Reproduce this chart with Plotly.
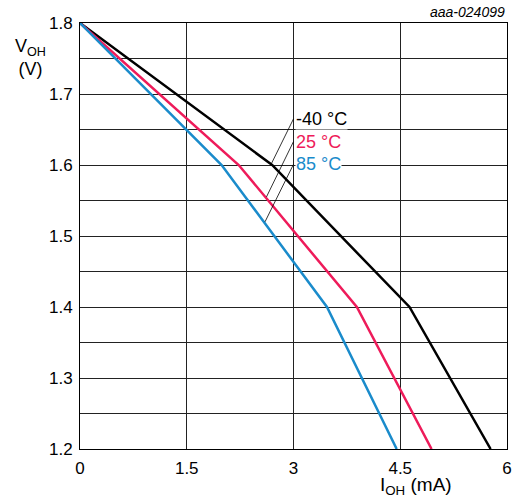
import plotly.graph_objects as go

# Data
i_m40 = [0, 2.70, 4.63, 5.77]
v_m40 = [1.8, 1.6, 1.4, 1.2]
i_25 = [0, 2.23, 3.89, 4.94]
v_25 = [1.8, 1.6, 1.4, 1.2]
i_85 = [0, 1.99, 3.47, 4.45]
v_85 = [1.8, 1.6, 1.4, 1.2]

labels = ["-40 °C", "25 °C", "85 °C"]
colors = ["#000000", "#EE1B5A", "#1A8BCB"]
label_y = [1.665, 1.633, 1.601]
leader_end_x = [2.69, 2.62, 2.60]
leader_end_y = [1.602, 1.555, 1.520]

x_ticks = [0, 1.5, 3, 4.5, 6]
y_ticks = [1.2, 1.3, 1.4, 1.5, 1.6, 1.7, 1.8]

FONT = "Arial, Liberation Sans, sans-serif"

fig = go.Figure()
for xs, ys, c, name in zip([i_m40, i_25, i_85], [v_m40, v_25, v_85], colors, labels):
    fig.add_trace(go.Scatter(x=xs, y=ys, mode="lines", name=name,
                             line=dict(color=c, width=2.5), showlegend=False))

# leader lines
for ly, ex, ey in zip(label_y, leader_end_x, leader_end_y):
    fig.add_trace(go.Scatter(x=[3.0, ex], y=[ly, ey], mode="lines",
                             line=dict(color="black", width=0.8), showlegend=False,
                             hoverinfo="skip"))

annotations = []
for t, c, ly in zip(labels, colors, label_y):
    annotations.append(dict(x=3.02, y=ly, xref="x", yref="y", text=t, showarrow=False,
                            xanchor="left", yanchor="middle",
                            font=dict(family=FONT, size=18, color=c),
                            bgcolor="white", borderpad=0))

annotations += [
    dict(x=-0.115, y=0.92, xref="paper", yref="paper",
         text="V<sub>OH</sub><br>(V)", showarrow=False, xanchor="center", yanchor="middle",
         font=dict(family=FONT, size=18, color="black")),
    dict(x=0.787, y=-0.087, xref="paper", yref="paper",
         text="I<sub>OH</sub> (mA)", showarrow=False, xanchor="center", yanchor="middle",
         font=dict(family=FONT, size=19, color="black")),
    dict(x=1.0, y=1.026, xref="paper", yref="paper",
         text="<i>aaa-024099</i>", showarrow=False, xanchor="right", yanchor="middle",
         font=dict(family=FONT, size=14, color="black")),
]

fig.update_layout(
    width=513, height=504,
    margin=dict(l=80, r=6, t=23, b=55, autoexpand=False),
    plot_bgcolor="white", paper_bgcolor="white",
    font=dict(family=FONT, size=17, color="black"),
    annotations=annotations,
    xaxis=dict(range=[0, 6], tickvals=x_ticks, ticktext=["0", "1.5", "3", "4.5", "6"],
               showgrid=True, gridcolor="#222", gridwidth=1,
               showline=True, linecolor="black", linewidth=1, mirror=True,
               ticks="", ticklabelstandoff=4, zeroline=False, fixedrange=True,
               automargin=False),
    yaxis=dict(range=[1.2, 1.8], tickvals=y_ticks,
               ticktext=[f"{v:.1f}" for v in y_ticks],
               showgrid=True, gridcolor="#222", gridwidth=1,
               minor=dict(dtick=0.05, tick0=1.2, showgrid=True, gridcolor="#222", gridwidth=1),
               showline=True, linecolor="black", linewidth=1, mirror=True,
               ticks="", ticklabelstandoff=3, zeroline=False, fixedrange=True,
               automargin=False),
)

fig.write_html("out.html", config={"displayModeBar": False},
               post_script="document.body.style.margin='0';")
